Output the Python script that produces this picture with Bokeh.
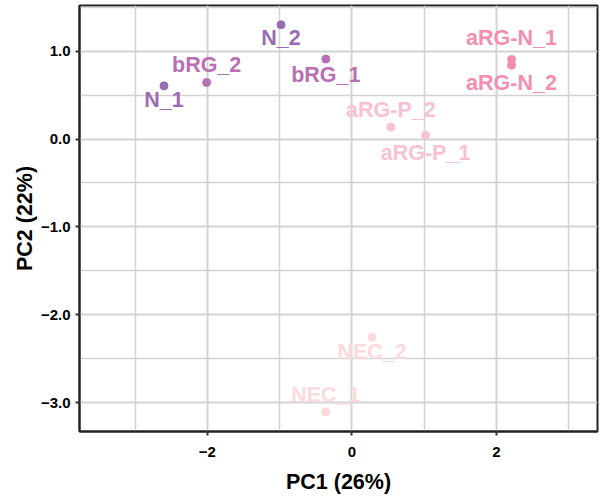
from bokeh.plotting import figure
from bokeh.models import ColumnDataSource, FixedTicker, Range1d
from bokeh.transform import factor_cmap
from bokeh.core.properties import value
from bokeh.embed import file_html
from bokeh.resources import INLINE

samples = ["N_1", "N_2", "bRG_1", "bRG_2", "aRG-N_1", "aRG-N_2",
           "aRG-P_1", "aRG-P_2", "NEC_1", "NEC_2"]
groups = ["N", "N", "bRG", "bRG", "aRG-N", "aRG-N",
          "aRG-P", "aRG-P", "NEC", "NEC"]
pc1 = [-2.60, -0.98, -0.36, -2.01, 2.21, 2.21, 1.02, 0.54, -0.36, 0.28]
pc2 = [0.605, 1.30, 0.91, 0.644, 0.906, 0.841, 0.042, 0.136, -3.106, -2.258]

group_names = ["N", "bRG", "aRG-N", "aRG-P", "NEC"]
group_colors = ["#9A6CB4", "#B96FB3", "#F38EB1", "#F8C2D5", "#FCDADB"]

# label offsets in screen pixels (positive = down)
label_dy = [14, 13, 16, -17, -21, 18, 18, -17, -17, 15]

x_ticks = [-2, 0, 2]
x_tick_labels = ["\u22122", "0", "2"]
x_minor = [-3, -1, 1, 3]
y_ticks = [-3, -2, -1, 0, 1]
y_tick_labels = ["\u22123.0", "\u22122.0", "\u22121.0", "0.0", "1.0"]
y_minor = [-2.5, -1.5, -0.5, 0.5, 1.5]

src = ColumnDataSource(dict(x=pc1, y=pc2, name=samples, group=groups, dy=label_dy))

p = figure(width=601, height=504, output_backend="svg", toolbar_location=None,
           x_range=Range1d(-3.77, 3.40), y_range=Range1d(-3.33, 1.52),
           min_border_left=79, min_border_right=4, min_border_top=5, min_border_bottom=73)

FONT = "Liberation Sans"
cmap = factor_cmap("group", palette=group_colors, factors=group_names)

p.scatter("x", "y", source=src, size=8, color=cmap)
p.text("x", "y", text="name", source=src, y_offset="dy", text_color=cmap,
       text_font=value(FONT), text_font_style="bold", text_font_size="21.5px",
       text_align="center", text_baseline="middle")

p.xaxis.ticker = FixedTicker(ticks=x_ticks, minor_ticks=x_minor)
p.yaxis.ticker = FixedTicker(ticks=y_ticks, minor_ticks=y_minor)
p.xaxis.major_label_overrides = dict(zip(x_ticks, x_tick_labels))
p.yaxis.major_label_overrides = dict(zip(y_ticks, y_tick_labels))

p.xaxis.axis_label = "PC1 (26%)"
p.yaxis.axis_label = "PC2 (22%)"

for ax in (p.xaxis[0], p.yaxis[0]):
    ax.axis_label_text_font = FONT
    ax.axis_label_text_font_style = "bold"
    ax.axis_label_text_font_size = "21.5px"
    ax.axis_label_text_color = "black"
    ax.major_label_text_font = FONT
    ax.major_label_text_font_style = "bold"
    ax.major_label_text_font_size = "15px"
    ax.major_label_text_color = "black"
    ax.axis_line_color = "#222222"
    ax.axis_line_width = 2
    ax.major_tick_line_color = "#333333"
    ax.major_tick_line_width = 2
    ax.major_tick_out = 4
    ax.major_tick_in = 0
    ax.minor_tick_line_color = None

p.xaxis.major_label_standoff = 11
p.xaxis.axis_label_standoff = 10
p.yaxis.major_label_standoff = 5
p.yaxis.axis_label_standoff = 1

for g in (p.xgrid[0], p.ygrid[0]):
    g.grid_line_color = "#D3D3D3"
    g.grid_line_width = 2
    g.minor_grid_line_color = "#D3D3D3"
    g.minor_grid_line_width = 1.5

p.outline_line_color = "#222222"
p.outline_line_width = 2
p.background_fill_color = "white"
p.border_fill_color = "white"

open("out.html", "w").write(file_html(p, INLINE))
